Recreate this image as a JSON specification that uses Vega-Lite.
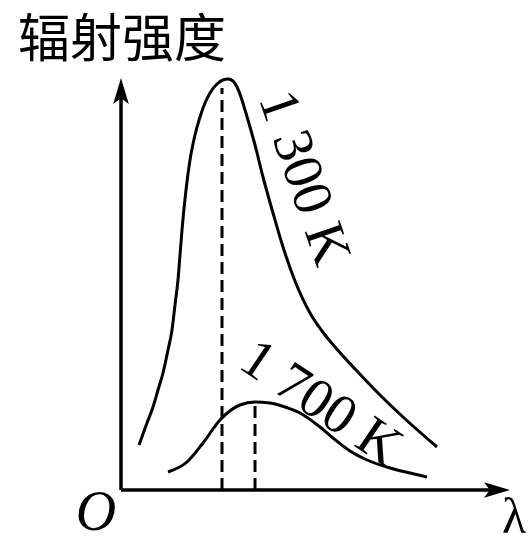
{
  "$schema": "https://vega.github.io/schema/vega-lite/v6.json",
  "width": 530,
  "height": 538,
  "padding": 0,
  "autosize": {"type": "none"},
  "background": "white",
  "config": {"view": {"stroke": null}},
  "datasets": {
    "curves": [
      {"series": "1300", "x": 18, "y": 45},
      {"series": "1300", "x": 26, "y": 67},
      {"series": "1300", "x": 32, "y": 83},
      {"series": "1300", "x": 37, "y": 100},
      {"series": "1300", "x": 42, "y": 117},
      {"series": "1300", "x": 47, "y": 140},
      {"series": "1300", "x": 51, "y": 160},
      {"series": "1300", "x": 54, "y": 185},
      {"series": "1300", "x": 57, "y": 210},
      {"series": "1300", "x": 59, "y": 235},
      {"series": "1300", "x": 61, "y": 260},
      {"series": "1300", "x": 65, "y": 300},
      {"series": "1300", "x": 69, "y": 330},
      {"series": "1300", "x": 74, "y": 355},
      {"series": "1300", "x": 79, "y": 373},
      {"series": "1300", "x": 84, "y": 387},
      {"series": "1300", "x": 89, "y": 397},
      {"series": "1300", "x": 96, "y": 406},
      {"series": "1300", "x": 102, "y": 410},
      {"series": "1300", "x": 107, "y": 411},
      {"series": "1300", "x": 112, "y": 409},
      {"series": "1300", "x": 116, "y": 403},
      {"series": "1300", "x": 120, "y": 393},
      {"series": "1300", "x": 124, "y": 380},
      {"series": "1300", "x": 134, "y": 345},
      {"series": "1300", "x": 142, "y": 313},
      {"series": "1300", "x": 152, "y": 277},
      {"series": "1300", "x": 162, "y": 243},
      {"series": "1300", "x": 174, "y": 209},
      {"series": "1300", "x": 189, "y": 177},
      {"series": "1300", "x": 201, "y": 159},
      {"series": "1300", "x": 214, "y": 143},
      {"series": "1300", "x": 235, "y": 120},
      {"series": "1300", "x": 257, "y": 97},
      {"series": "1300", "x": 282, "y": 73},
      {"series": "1300", "x": 316, "y": 43},
      {"series": "1700", "x": 47, "y": 18},
      {"series": "1700", "x": 66, "y": 28},
      {"series": "1700", "x": 82, "y": 47},
      {"series": "1700", "x": 99, "y": 70},
      {"series": "1700", "x": 119, "y": 85},
      {"series": "1700", "x": 134, "y": 88},
      {"series": "1700", "x": 149, "y": 87},
      {"series": "1700", "x": 164, "y": 83},
      {"series": "1700", "x": 179, "y": 77},
      {"series": "1700", "x": 199, "y": 63},
      {"series": "1700", "x": 212, "y": 52},
      {"series": "1700", "x": 229, "y": 39},
      {"series": "1700", "x": 246, "y": 30},
      {"series": "1700", "x": 269, "y": 22},
      {"series": "1700", "x": 289, "y": 17},
      {"series": "1700", "x": 306, "y": 13}
    ],
    "guides": [
      {"series": "1300", "x": 101, "y": 0},
      {"series": "1300", "x": 101, "y": 402},
      {"series": "1700", "x": 134, "y": 0},
      {"series": "1700", "x": 134, "y": 88}
    ],
    "axes": [
      {"series": "x", "x": 0, "y": 0},
      {"series": "x", "x": 380, "y": 0},
      {"series": "y", "x": 0, "y": 0},
      {"series": "y", "x": 0, "y": 400}
    ],
    "arrowX": [{"x": 376, "y": 0}],
    "arrowY": [{"x": 0, "y": 399}]
  },
  "encoding": {
    "x": {"field": "x", "type": "quantitative", "scale": {"domain": [-121, 409], "nice": false, "zero": false}, "axis": null},
    "y": {"field": "y", "type": "quantitative", "scale": {"domain": [-48, 490], "nice": false, "zero": false}, "axis": null}
  },
  "layer": [
    {
      "data": {"name": "axes"},
      "mark": {"type": "line", "color": "black", "strokeWidth": 3.5, "strokeCap": "butt"},
      "encoding": {"detail": {"field": "series"}}
    },
    {
      "data": {"name": "arrowX"},
      "mark": {"type": "point", "shape": "M1,0L-1,-0.6L-0.55,0L-1,0.6Z", "filled": true, "color": "black", "opacity": 1, "size": 676, "strokeWidth": 0}
    },
    {
      "data": {"name": "arrowY"},
      "mark": {"type": "point", "shape": "M0,-1L0.6,1L0,0.55L-0.6,1Z", "filled": true, "color": "black", "opacity": 1, "size": 676, "strokeWidth": 0}
    },
    {
      "data": {"name": "guides"},
      "mark": {"type": "line", "color": "black", "strokeWidth": 3, "strokeDash": [12, 6]},
      "encoding": {"detail": {"field": "series"}}
    },
    {
      "data": {"name": "curves"},
      "mark": {"type": "line", "color": "black", "strokeWidth": 3, "interpolate": "monotone"},
      "encoding": {"detail": {"field": "series"}}
    },
    {
      "data": {"values": [{"x": 1, "y": 449, "label": "辐射强度"}]},
      "mark": {"type": "text", "font": "Noto Sans CJK SC", "fontSize": 52, "align": "center", "baseline": "middle", "color": "black"},
      "encoding": {"text": {"field": "label"}}
    },
    {
      "data": {"values": [{"x": 183, "y": 312, "label": "1 300 K"}]},
      "mark": {"type": "text", "font": "Liberation Serif", "fontSize": 56, "angle": 71, "align": "center", "baseline": "middle", "color": "black"},
      "encoding": {"text": {"field": "label"}}
    },
    {
      "data": {"values": [{"x": 200, "y": 87, "label": "1 700 K"}]},
      "mark": {"type": "text", "font": "Liberation Serif", "fontSize": 56, "angle": 34, "align": "center", "baseline": "middle", "color": "black"},
      "encoding": {"text": {"field": "label"}}
    },
    {
      "data": {"values": [{"x": -25, "y": -23, "label": "O"}]},
      "mark": {"type": "text", "font": "Liberation Serif", "fontStyle": "italic", "fontSize": 56, "align": "center", "baseline": "middle", "color": "black"},
      "encoding": {"text": {"field": "label"}}
    },
    {
      "data": {"values": [{"x": 393, "y": -28, "label": "λ"}]},
      "mark": {"type": "text", "font": "Liberation Serif", "fontSize": 50, "align": "center", "baseline": "middle", "color": "black"},
      "encoding": {"text": {"field": "label"}}
    }
  ]
}
